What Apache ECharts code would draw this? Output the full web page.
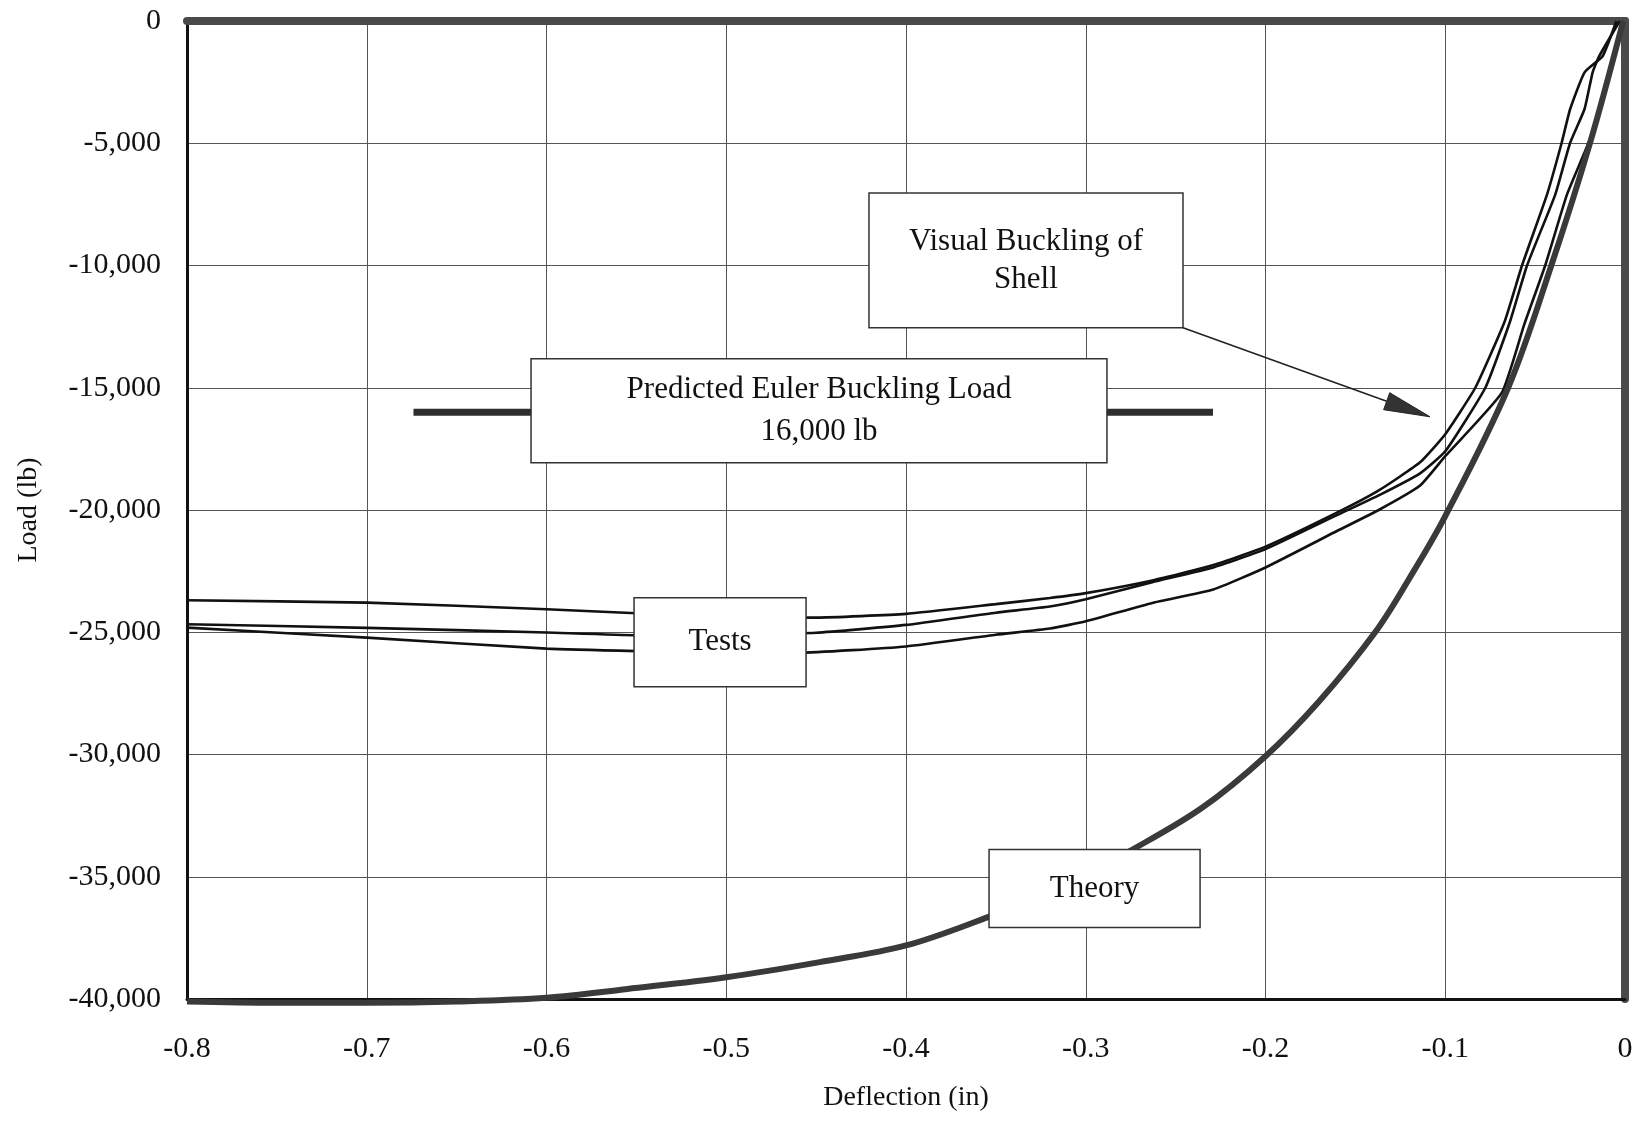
<!DOCTYPE html>
<html><head><meta charset="utf-8">
<script src="https://cdn.jsdelivr.net/npm/echarts@6/dist/echarts.min.js"></script>
<style>html,body{margin:0;padding:0;background:#fff}#c{width:1641px;height:1126px}</style>
</head><body><div id="c"></div>
<script>
// ---- data (deflection in, load lb) ----
const test1 = [[-0.8,-23690],[-0.7,-23790],[-0.6,-24060],[-0.55,-24224],[-0.5,-24380],[-0.45,-24400],[-0.4,-24250],[-0.35,-23850],[-0.32,-23600],[-0.3,-23400],[-0.263,-22880],[-0.229,-22250],[-0.2,-21500],[-0.16,-20100],[-0.137,-19200],[-0.114,-18050],[-0.1,-16900],[-0.0833,-15000],[-0.067,-12300],[-0.0573,-10000],[-0.0434,-7100],[-0.0353,-5000],[-0.0305,-3600],[-0.0225,-2100],[-0.0124,-1430],[-0.0048,0]];
const test2 = [[-0.8,-24670],[-0.7,-24820],[-0.6,-25010],[-0.55,-25120],[-0.5,-25080],[-0.45,-25020],[-0.4,-24700],[-0.35,-24200],[-0.32,-23950],[-0.3,-23650],[-0.263,-22950],[-0.229,-22350],[-0.2,-21600],[-0.16,-20200],[-0.137,-19400],[-0.114,-18500],[-0.1,-17600],[-0.0777,-15000],[-0.064,-12300],[-0.0545,-10000],[-0.0388,-7100],[-0.0306,-5000],[-0.0225,-3600],[-0.018,-2100],[-0.0143,-1430],[-0.0029,0]];
const test3 = [[-0.8,-24810],[-0.7,-25220],[-0.6,-25670],[-0.55,-25770],[-0.5,-25830],[-0.46,-25840],[-0.4,-25580],[-0.35,-25100],[-0.32,-24850],[-0.3,-24550],[-0.263,-23800],[-0.229,-23250],[-0.2,-22350],[-0.16,-20850],[-0.137,-20000],[-0.114,-19000],[-0.1,-17800],[-0.0685,-15200],[-0.056,-12400],[-0.0444,-10000],[-0.0323,-7100],[-0.0204,-5000],[-0.0143,-3600],[-0.0086,-2100],[-0.0057,-1430],[-0.0013,0]];
const theory = [[-0.8,-40100],[-0.75,-40150],[-0.7,-40150],[-0.65,-40100],[-0.6,-39950],[-0.555,-39590],[-0.5,-39110],[-0.448,-38490],[-0.4,-37810],[-0.354,-36640],[-0.32,-35650],[-0.3,-34900],[-0.276,-33970],[-0.2355,-32190],[-0.2,-30070],[-0.17,-27810],[-0.139,-25000],[-0.12,-22800],[-0.1,-20250],[-0.065,-15000],[-0.041,-10000],[-0.0195,-5000],[-0.001,0]];
const eulerLoad = [[-0.674,-16000],[-0.2292,-16000]];
const xTickMin = -0.8, xTickMax = 0, xTickStep = 0.1;
const yTickMin = -40000, yTickMax = 0, yTickStep = 5000;

// ---- annotations (anchored in data coordinates) ----
const notes = [
  {lines:['Visual Buckling of','Shell'], x0:-0.4206, x1:-0.2459, y0:-7031, y1:-12550, lh:38},
  {lines:['Predicted Euler Buckling Load','16,000 lb'], x0:-0.6086, x1:-0.2882, y0:-13817, y1:-18068, lh:42},
  {lines:['Tests'], x0:-0.5513, x1:-0.4556, y0:-23587, y1:-27225, lh:38},
  {lines:['Theory'], x0:-0.3538, x1:-0.2364, y0:-33889, y1:-37077, lh:38}
];
const arrow = {from:[-0.2459,-12550], to:[-0.1085,-16188]};

const FONT = 'Liberation Serif';
const chart = echarts.init(document.getElementById('c'), null, {renderer:'canvas'});
const fmtY = v => v === 0 ? '0' : ('-' + Math.abs(v).toString().replace(/\B(?=(\d{3})+(?!\d))/g, ','));
const fmtX = v => Math.abs(v) < 1e-9 ? '0' : v.toFixed(1);

const testStyle = {type:'line', showSymbol:false, symbol:'none', smooth:0.15, clip:false,
  lineStyle:{color:'#111', width:2.6}, z:3, silent:true};

chart.setOption({
  animation:false,
  backgroundColor:'#fff',
  grid:{left:187, right:16, top:21, bottom:127, containLabel:false},
  xAxis:[{
    type:'value', min:xTickMin, max:xTickMax, interval:xTickStep,
    name:'Deflection (in)', nameLocation:'middle', nameGap:85,
    nameTextStyle:{fontFamily:FONT, fontSize:28, color:'#111'},
    axisLine:{show:true, onZero:false, lineStyle:{color:'#111', width:3}},
    axisTick:{show:false},
    axisLabel:{fontFamily:FONT, fontSize:30, color:'#111', margin:35, formatter:fmtX},
    splitLine:{show:true, lineStyle:{color:'#555', width:1}}
  },{
    type:'value', position:'top', min:xTickMin, max:xTickMax, interval:xTickStep,
    axisLine:{show:true, onZero:false, lineStyle:{color:'#4a4a4a', width:8}},
    axisTick:{show:false}, axisLabel:{show:false}, splitLine:{show:false}
  }],
  yAxis:[{
    type:'value', min:yTickMin, max:yTickMax, interval:yTickStep,
    name:'Load (lb)', nameLocation:'middle', nameGap:144,
    nameTextStyle:{fontFamily:FONT, fontSize:28, color:'#111'},
    axisLine:{show:true, onZero:false, lineStyle:{color:'#111', width:3}},
    axisTick:{show:false},
    axisLabel:{fontFamily:FONT, fontSize:30, color:'#111', margin:26, formatter:fmtY},
    splitLine:{show:true, lineStyle:{color:'#555', width:1}}
  },{
    type:'value', position:'right', min:yTickMin, max:yTickMax, interval:yTickStep,
    axisLine:{show:true, onZero:false, lineStyle:{color:'#4a4a4a', width:8}},
    axisTick:{show:false}, axisLabel:{show:false}, splitLine:{show:false}
  }],
  series:[
    Object.assign({name:'Test 1', data:test1}, testStyle),
    Object.assign({name:'Test 2', data:test2}, testStyle),
    Object.assign({name:'Test 3', data:test3}, testStyle),
    {name:'Theory', type:'line', data:theory, showSymbol:false, symbol:'none', smooth:0.35, clip:false,
      lineStyle:{color:'#3a3a3a', width:6}, z:4, silent:true},
    {name:'Euler', type:'line', data:eulerLoad, showSymbol:false, symbol:'none', clip:false,
      lineStyle:{color:'#2e2e2e', width:7}, z:4, silent:true}
  ]
});

function px(p){ return chart.convertToPixel({gridIndex:0}, p); }
const g = [];
notes.forEach(n => {
  const a = px([n.x0, n.y0]), b = px([n.x1, n.y1]);
  const x = Math.min(a[0], b[0]), y = Math.min(a[1], b[1]);
  const w = Math.abs(b[0]-a[0]), h = Math.abs(b[1]-a[1]);
  g.push({type:'rect', z:100, shape:{x:x, y:y, width:w, height:h},
    style:{fill:'#fff', stroke:'#333', lineWidth:1.5}});
  const cy = y + h/2, cx = x + w/2;
  n.lines.forEach((t, i) => {
    const ty = cy + (i - (n.lines.length-1)/2) * n.lh;
    g.push({type:'text', z:101, x:cx, y:ty,
      style:{text:t, fontFamily:FONT, fontSize:31, fill:'#111', align:'center', verticalAlign:'middle'}});
  });
});
// arrow
(function(){
  const s = px(arrow.from), e = px(arrow.to);
  const dx = e[0]-s[0], dy = e[1]-s[1], L = Math.hypot(dx, dy);
  const ux = dx/L, uy = dy/L, nx = -uy, ny = ux;
  const hl = 46, hw = 9;
  const bx = e[0]-ux*hl, by = e[1]-uy*hl;
  g.push({type:'line', z:100, shape:{x1:s[0], y1:s[1], x2:bx, y2:by}, style:{stroke:'#222', lineWidth:1.6}});
  g.push({type:'polygon', z:100, shape:{points:[[e[0],e[1]],[bx+nx*hw, by+ny*hw],[bx-nx*hw, by-ny*hw]]},
    style:{fill:'#333', stroke:'#222', lineWidth:1}});
})();
chart.setOption({graphic:g});
</script>
</body></html>
